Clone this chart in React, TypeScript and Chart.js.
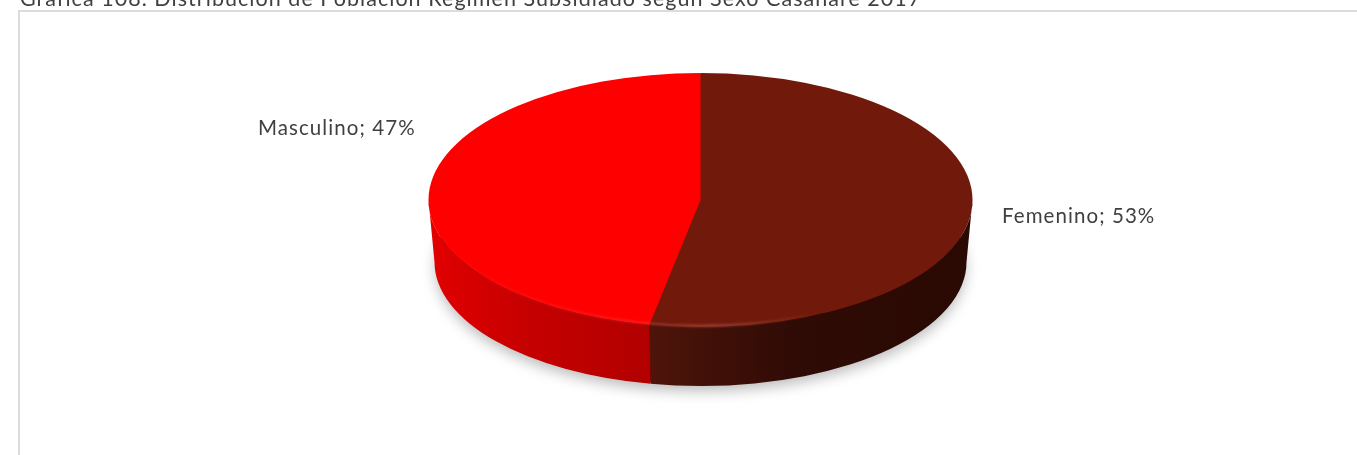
import React, { useEffect, useRef } from "react";
import { Chart, registerables } from "chart.js";

Chart.register(...registerables);

const titleText = "Gráfica 108. Distribución de Población Régimen Subsidiado según Sexo Casanare 2017";
const categories = ["Femenino", "Masculino"];
const shares = [53, 47];
const sliceColors = ["#711a0c", "#ff0000"];

const FONT = "Lato";
const TILT = 127 / 272;
const DEPTH = 62;
const BASE_INSET_X = 6;
const BASE_INSET_Y = 3;
const wallStops = [
  [[0, "#4e140a"], [0.45, "#2f0b05"], [1, "#2a0903"]],
  [[0, "#b20000"], [0.55, "#c60000"], [1, "#e20000"]],
] as [number, string][][];
const labelAnchors = [
  { x: 1002, y: 223 },
  { x: 258, y: 135 },
];

const pie3d = {
  id: "pie3d",
  beforeDraw(chart: any) {
    const { ctx } = chart;
    ctx.save();
    ctx.fillStyle = "#ffffff";
    ctx.fillRect(0, 0, chart.width, chart.height);
    ctx.strokeStyle = "#dcdcdc";
    ctx.lineWidth = 2;
    ctx.beginPath();
    ctx.moveTo(19, chart.height);
    ctx.lineTo(19, 11);
    ctx.lineTo(chart.width, 11);
    ctx.stroke();
    ctx.fillStyle = "#404040";
    ctx.font = `400 21.5px ${FONT}`;
    (ctx as any).letterSpacing = "1.04px";
    ctx.textBaseline = "alphabetic";
    ctx.fillText(titleText, 20, 6);
    ctx.restore();
  },
  beforeDatasetsDraw(chart: any) {
    const { ctx } = chart;
    const arcs = chart.getDatasetMeta(0).data;
    const { x, y, outerRadius: r } = arcs[0];
    const ry = r * TILT;
    const rb = r - BASE_INSET_X;
    const ryb = ry - BASE_INSET_Y;
    ctx.save();
    ctx.save();
    ctx.shadowColor = "rgba(0,0,0,0.27)";
    ctx.shadowBlur = 14;
    ctx.shadowOffsetY = 7;
    ctx.fillStyle = "#400000";
    ctx.beginPath();
    ctx.ellipse(x, y + DEPTH - 1, rb - 1, ryb - 1, 0, 0, Math.PI * 2);
    ctx.fill();
    ctx.restore();
    arcs.forEach((arc: any, i: number) => {
      const a0 = Math.max(arc.startAngle, 0);
      const a1 = Math.min(arc.endAngle, Math.PI);
      if (a1 <= a0) return;
      const xl = x + r * Math.cos(a1);
      const xr = x + r * Math.cos(a0);
      const grad = i === 0 ? ctx.createLinearGradient(xl, 0, xr, 0) : ctx.createLinearGradient(xr, 0, xl, 0);
      wallStops[i].forEach(([p, c]) => grad.addColorStop(p, c));
      ctx.fillStyle = grad;
      ctx.beginPath();
      ctx.ellipse(x, y, r, ry, 0, a0, a1);
      ctx.ellipse(x, y + DEPTH, rb, ryb, 0, a1, a0, true);
      ctx.closePath();
      ctx.fill();
    });
    ctx.fillStyle = sliceColors[0];
    ctx.beginPath();
    ctx.ellipse(x, y, r - 1, ry - 1, 0, 0, Math.PI * 2);
    ctx.fill();
    ctx.restore();
    ctx.save();
    ctx.translate(x, y);
    ctx.scale(1, TILT);
    ctx.translate(-x, -y);
  },
  afterDatasetsDraw(chart: any) {
    const { ctx } = chart;
    ctx.restore();
    const arcs = chart.getDatasetMeta(0).data;
    const { x, y, outerRadius: r } = arcs[0];
    const ry = r * TILT;
    ctx.save();
    const glow = ctx.createLinearGradient(x - r, 0, x + 120, 0);
    glow.addColorStop(0, "rgba(255,120,120,0)");
    glow.addColorStop(0.45, "rgba(255,120,120,0.18)");
    glow.addColorStop(0.72, "rgba(255,150,130,0.32)");
    glow.addColorStop(1, "rgba(255,150,130,0)");
    ctx.strokeStyle = glow;
    ctx.lineWidth = 2.5;
    ctx.filter = "blur(1px)";
    ctx.beginPath();
    ctx.ellipse(x, y, r - 1, ry - 1, 0, 0.6, Math.PI - 0.1);
    ctx.stroke();
    ctx.filter = "none";
    ctx.fillStyle = "#404040";
    ctx.font = `400 20.5px ${FONT}`;
    (ctx as any).letterSpacing = "1.07px";
    ctx.textBaseline = "alphabetic";
    categories.forEach((c, i) => {
      ctx.fillText(`${c}; ${shares[i]}%`, labelAnchors[i].x, labelAnchors[i].y);
    });
    ctx.restore();
  },
};

export default function App() {
  const ref = useRef<HTMLCanvasElement>(null);
  useEffect(() => {
    const chart = new Chart(ref.current!, {
      type: "pie",
      data: {
        labels: categories,
        datasets: [
          {
            data: shares,
            backgroundColor: sliceColors,
            borderWidth: 0,
            clip: false,
          } as any,
        ],
      },
      options: {
        responsive: false,
        animation: false,
        radius: 272,
        rotation: 0,
        layout: { padding: { left: 44, right: 0, top: 0, bottom: 55 } },
        plugins: { legend: { display: false }, title: { display: false }, tooltip: { enabled: false } },
      } as any,
      plugins: [pie3d],
    });
    return () => chart.destroy();
  }, []);
  return (
    <div style={{ position: "fixed", left: 0, top: 0, width: 1357, height: 455, overflow: "hidden" }}>
      <canvas ref={ref} width={1357} height={455} style={{ display: "block" }} />
    </div>
  );
}
